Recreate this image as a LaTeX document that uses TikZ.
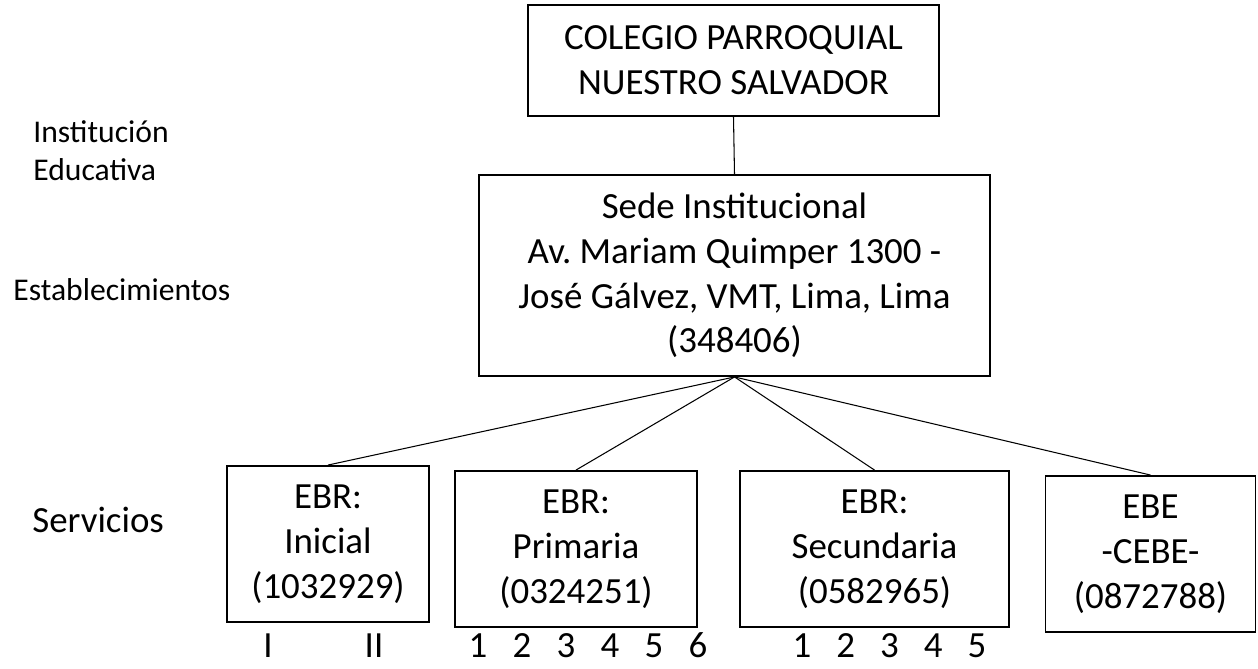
\documentclass[tikz,border=0pt]{standalone}
\usepackage{fontspec}
\setmainfont{Carlito}
\frenchspacing
\tikzset{
  caja/.style={draw, line width=1.1pt, align=center, inner sep=0pt, font=\fontsize{21}{25.5}\selectfont},
  nivel/.style={anchor=west, align=left, inner sep=0pt, font=\fontsize{18}{21.5}\selectfont},
  grado/.style={anchor=base, inner sep=0pt, font=\fontsize{21}{25}\selectfont},
  rama/.style={line width=0.6pt}
}
\begin{document}
\begin{tikzpicture}[x=0.02cm,y=-0.02cm]
\useasboundingbox (0,0) rectangle (1258,669);
% niveles
\node[nivel] (inst) at (33,151) {Institución\\Educativa};
\node[nivel] (estab) at (13,290) {Establecimientos};
\node[nivel, font=\fontsize{21}{25}\selectfont] (serv) at (32,520) {Servicios};
% cajas
\node[caja, minimum width=8.22cm, minimum height=2.22cm] (colegio) at (733.5,60.5) {COLEGIO PARROQUIAL\\NUESTRO SALVADOR};
\node[caja, minimum width=10.22cm, minimum height=4.02cm] (sede) at (734.5,275.5) {Sede Institucional\\Av. Mariam Quimper 1300 -\\José Gálvez, VMT, Lima, Lima\\(348406)};
\node[caja, minimum width=4.04cm, minimum height=3.12cm] (ini) at (328,544) {EBR:\\Inicial\\(1032929)};
\node[caja, minimum width=4.84cm, minimum height=3.12cm] (prim) at (576,549) {EBR:\\Primaria\\(0324251)};
\node[caja, minimum width=5.38cm, minimum height=3.12cm] (sec) at (874.5,549) {EBR:\\Secundaria\\(0582965)};
\node[caja, minimum width=4.2cm, minimum height=3.12cm] (ebe) at (1150.5,554) {EBE\\-CEBE-\\(0872788)};
% lineas
\draw[rama] (colegio.south) -- (sede.north);
\foreach \s in {ini,prim,sec,ebe}
  \draw[rama] (sede.south) -- (\s.north);
% grados
\node[grado] (ini1) at (268,657) {I};
\node[grado] (ini2) at (374,657) {II};
\foreach \g in {1,...,6}
  \node[grado] (prim\g) at ({478+44*(\g-1)},657) {\g};
\foreach \g in {1,...,5}
  \node[grado] (sec\g) at ({802+43.75*(\g-1)},657) {\g};
\end{tikzpicture}
\end{document}
